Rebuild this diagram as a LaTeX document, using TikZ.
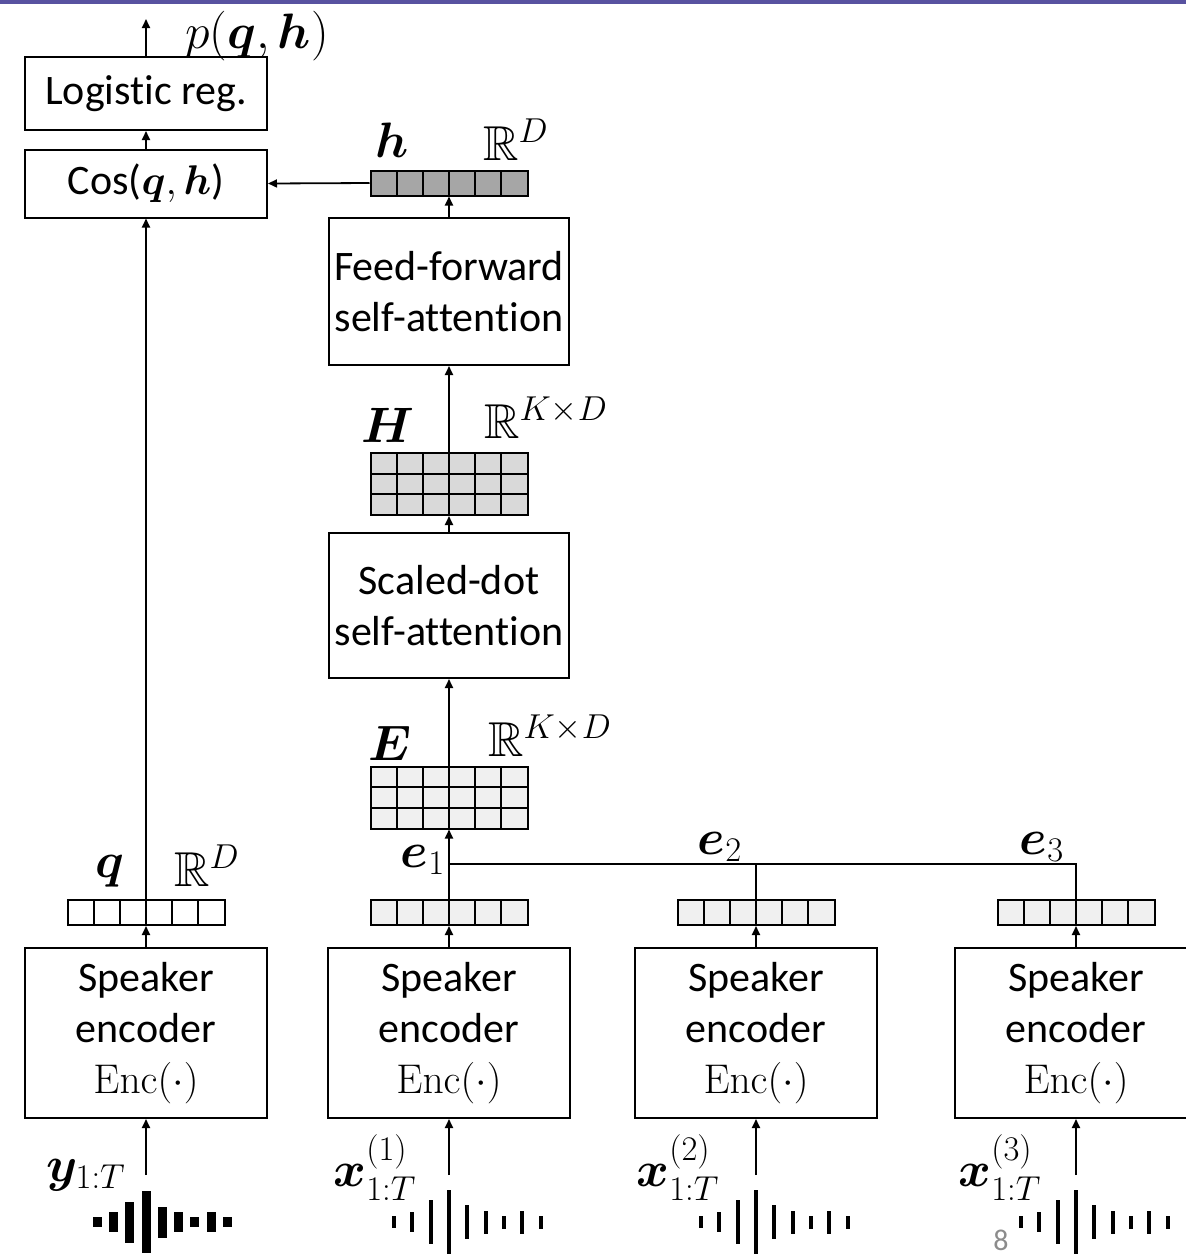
\documentclass[tikz,border=0pt]{standalone}
\usepackage{amsmath,amssymb,bm}
\usepackage[no-math]{fontspec}
\setmainfont{Carlito}[Ligatures=NoCommon]
\usepackage{xcolor}
\usetikzlibrary{positioning, arrows.meta, calc}

\definecolor{slidebar}{RGB}{88,82,160}

\begin{document}
\begin{tikzpicture}[
  x=0.5pt, y=-0.5pt,
  blk/.style={draw, line width=1pt, minimum width=121pt, align=center, inner sep=0pt, font=\fontsize{21}{25.5}\selectfont},
  lbl/.style={inner sep=0pt, font=\fontsize{24.5}{28}\selectfont},
  vecrow/.style={draw, line width=1pt, inner sep=0pt, minimum width=78.5pt, minimum height=12.5pt,
    path picture={\foreach \k in {1,...,5}
      \draw[line width=1pt] ($(path picture bounding box.north west)!\k/6!(path picture bounding box.north east)$) -- ($(path picture bounding box.south west)!\k/6!(path picture bounding box.south east)$);}},
  matgrid/.style={draw, line width=1pt, inner sep=0pt, minimum width=78.5pt, minimum height=31pt,
    path picture={\foreach \k in {1,...,5}
      \draw[line width=1pt] ($(path picture bounding box.north west)!\k/6!(path picture bounding box.north east)$) -- ($(path picture bounding box.south west)!\k/6!(path picture bounding box.south east)$);
      \foreach \k in {1,2}
      \draw[line width=1pt] ($(path picture bounding box.north west)!\k/3!(path picture bounding box.south west)$) -- ($(path picture bounding box.north east)!\k/3!(path picture bounding box.south east)$);}},
  arrow/.style={-{Triangle[length=4.5pt,width=4pt]}, line width=0.9pt},
  link/.style={line width=0.9pt}
]
\useasboundingbox (0,0) rectangle (1186,1255);
\fill[slidebar] (0,0) rectangle (1186,4);

% scoring head
\node[blk, minimum height=36.5pt] (logit) at (146,93.5) {Logistic reg.};
\node[blk, minimum height=34pt] (cos) at (146,183.5) {Cos($\bm{q},\bm{h}$)};
\coordinate (pout) at (146,19);
\node[lbl] (plbl) at (257,36) {$p(\bm{q},\bm{h})$};

% attention stack
\node[vecrow, fill=black!35] (hvec) at (449,183) {};
\node[lbl] (hlbl) at (392,140) {$\bm{h}$};
\node[lbl] (hdim) at (516,140) {$\mathbb{R}^{D}$};
\node[blk, minimum width=120pt, minimum height=73.5pt] (ff) at (449,291.5) {Feed-forward\\self-attention};
\node[matgrid, fill=black!15] (Hmat) at (449,484) {};
\node[lbl] (Hlbl) at (388,425) {$\bm{H}$};
\node[lbl] (Hdim) at (546,418) {$\mathbb{R}^{K\times D}$};
\node[blk, minimum width=120pt, minimum height=72.5pt] (sdot) at (449,605.5) {Scaled-dot\\self-attention};
\node[matgrid, fill=black!6] (Emat) at (449,797.5) {};
\node[lbl] (Elbl) at (390,743) {$\bm{E}$};
\node[lbl] (Edim) at (550,736) {$\mathbb{R}^{K\times D}$};

% embeddings
\node[vecrow, fill=white] (qvec) at (146,912.5) {};
\node[vecrow, fill=black!6] (e1vec) at (449,912.5) {};
\node[vecrow, fill=black!6] (e2vec) at (756,912.5) {};
\node[vecrow, fill=black!6] (e3vec) at (1076,912.5) {};
\node[lbl] (qlbl) at (110,871) {$\bm{q}$};
\node[lbl] (qdim) at (207,866) {$\mathbb{R}^{D}$};
\node[lbl] (e1lbl) at (423,860) {$\bm{e}_1$};
\node[lbl] (e2lbl) at (720,847) {$\bm{e}_2$};
\node[lbl] (e3lbl) at (1042,847) {$\bm{e}_3$};
\coordinate (join) at (449,864);

% speaker encoders
\node[blk, minimum height=85pt] (encq) at (146,1033) {Speaker\\encoder\\$\mathrm{Enc}(\cdot)$};
\node[blk, minimum height=85pt] (enc1) at (449,1033) {Speaker\\encoder\\$\mathrm{Enc}(\cdot)$};
\node[blk, minimum height=85pt] (enc2) at (756,1033) {Speaker\\encoder\\$\mathrm{Enc}(\cdot)$};
\node[blk, minimum height=85pt] (enc3) at (1076,1033) {Speaker\\encoder\\$\mathrm{Enc}(\cdot)$};

% inputs
\coordinate (yin) at (146,1175);
\coordinate (x1in) at (449,1175);
\coordinate (x2in) at (756,1175);
\coordinate (x3in) at (1076,1175);
\node[lbl] (ylbl) at (86,1175) {$\bm{y}_{1:T}$};
\node[lbl] (x1lbl) at (375,1168) {$\bm{x}^{(1)}_{1:T}$};
\node[lbl] (x2lbl) at (678,1168) {$\bm{x}^{(2)}_{1:T}$};
\node[lbl] (x3lbl) at (1000,1168) {$\bm{x}^{(3)}_{1:T}$};

% connectors
\draw[arrow] (logit.north) -- (pout);
\draw[arrow] (cos.north) -- (logit.south);
\draw[arrow] (hvec.west) -- (cos.east);
\draw[arrow] (ff.north) -- (hvec.south);
\draw[arrow] (Hmat.north) -- (ff.south);
\draw[arrow] (sdot.north) -- (Hmat.south);
\draw[arrow] (Emat.north) -- (sdot.south);
\draw[arrow] (e1vec.north) -- (Emat.south);
\draw[link] (e3vec.north) |- (join);
\draw[link] (e2vec.north) -- (e2vec.north |- join);
\draw[arrow] (qvec.north) -- (cos.south);
\foreach \v/\e in {qvec/encq, e1vec/enc1, e2vec/enc2, e3vec/enc3}
  \draw[arrow] (\e.north) -- (\v.south);
\foreach \s/\e in {yin/encq, x1in/enc1, x2in/enc2, x3in/enc3}
  \draw[arrow] (\s) -- (\e.south);

% waveforms
\foreach \i/\h in {-3/10,-2/20,-1/41,0/62,1/31,2/20,3/10,4/20,5/10}
  \fill (146+\i*16.3-4.5, 1222-\h/2) rectangle ++(9,\h);
\foreach \cx in {449,756,1076}
  \foreach \i/\h in {-3/12,-2/20,-1/44,0/64,1/34,2/23,3/13,4/23,5/13}
    \fill (\cx+\i*18.3-2, 1222-\h/2) rectangle ++(4,\h);

\node[font=\fontsize{15}{15}\selectfont, text=black!45, inner sep=0pt] (pagenum) at (1001,1240) {8};
\end{tikzpicture}
\end{document}
